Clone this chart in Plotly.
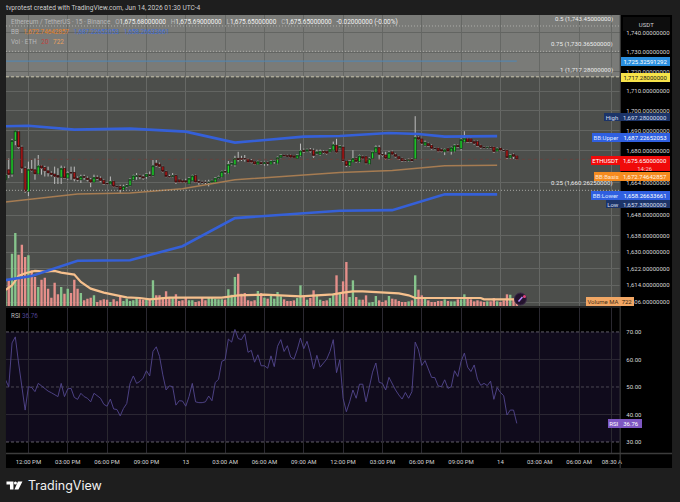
import math

import pandas as pd
import plotly.graph_objects as go

# -----------------------------
# Data
# -----------------------------
opens = [1665.5, 1670.4, 1668.3, 1685.1, 1689.5, 1681.8, 1671.2, 1659.8, 1670.7, 1670.4,
         1668.3, 1672.4, 1671.6, 1669.9, 1668.8, 1668.3, 1667.6, 1666.7, 1671.2, 1666.3,
         1669.1, 1669.1, 1666.3, 1665.5, 1667.1, 1666.3, 1665.5, 1664.3, 1666.7, 1666.3,
         1665.3, 1663.7, 1663.4, 1664.7, 1662.2, 1662.2, 1660.6, 1662.1, 1662.6, 1665.5,
         1667.1, 1667.5, 1667.0, 1667.1, 1668.0, 1667.6, 1673.7, 1673.2, 1672.0, 1669.6,
         1667.1, 1667.1, 1667.6, 1665.5, 1665.0, 1665.0, 1663.4, 1665.0, 1667.6, 1664.7,
         1664.4, 1664.3, 1664.2, 1664.3, 1664.3, 1666.3, 1666.8, 1669.6, 1668.8, 1673.2,
         1672.9, 1676.1, 1676.1, 1676.0, 1675.8, 1675.1, 1674.5, 1673.2, 1674.0, 1673.5,
         1674.0, 1673.2, 1674.5, 1673.7, 1676.6, 1677.8, 1677.6, 1677.8, 1677.4, 1676.1,
         1677.4, 1680.2, 1679.7, 1680.4, 1680.2, 1678.6, 1678.1, 1679.7, 1679.7, 1679.4,
         1680.2, 1682.65, 1681.4, 1681.8, 1674.8, 1672.5, 1674.2, 1676.1, 1674.5, 1677.0,
         1677.0, 1673.3, 1676.1, 1679.1, 1681.5, 1678.1, 1677.8, 1676.1, 1679.4, 1678.1,
         1677.0, 1676.1, 1675.3, 1675.0, 1675.6, 1675.8, 1686.7, 1685.9, 1682.65, 1683.5,
         1682.65, 1681.3, 1681.3, 1680.5, 1679.4, 1681.0, 1679.7, 1679.7, 1682.65, 1681.0,
         1684.3, 1685.9, 1685.9, 1684.6, 1684.6, 1682.65, 1681.8, 1681.5, 1681.8, 1681.8,
         1679.7, 1681.3, 1680.2, 1680.2, 1676.4, 1678.1, 1677.4]
highs = [1668.8, 1676.1, 1685.9, 1690.2, 1690.0, 1682.5, 1672.0, 1674.5, 1675.3, 1676.1,
         1677.8, 1672.85, 1672.4, 1672.0, 1669.6, 1672.0, 1671.2, 1672.5, 1672.0, 1669.6,
         1672.0, 1672.0, 1667.1, 1668.0, 1668.0, 1667.1, 1666.3, 1668.0, 1667.6, 1667.1,
         1665.9, 1664.3, 1667.1, 1665.0, 1662.6, 1663.0, 1663.0, 1663.4, 1666.0, 1668.0,
         1668.8, 1668.0, 1668.0, 1668.8, 1669.6, 1675.3, 1675.3, 1674.0, 1672.4, 1670.0,
         1668.0, 1668.8, 1668.0, 1666.0, 1665.5, 1666.0, 1666.7, 1668.0, 1668.0, 1665.5,
         1665.0, 1665.2, 1665.5, 1665.5, 1666.7, 1667.5, 1670.0, 1670.4, 1674.8, 1674.4,
         1677.4, 1679.4, 1677.4, 1677.8, 1676.3, 1675.8, 1674.8, 1675.0, 1674.6, 1674.5,
         1674.5, 1675.1, 1675.3, 1677.0, 1678.2, 1678.2, 1678.0, 1678.2, 1677.8, 1678.1,
         1683.5, 1681.0, 1681.0, 1681.3, 1681.0, 1680.5, 1680.5, 1680.3, 1680.0, 1681.2,
         1684.5, 1685.9, 1682.8, 1682.5, 1675.0, 1675.2, 1680.2, 1676.6, 1678.0, 1677.5,
         1677.4, 1676.6, 1679.8, 1682.6, 1682.65, 1679.0, 1679.4, 1679.7, 1680.0, 1678.6,
         1677.4, 1676.5, 1675.8, 1676.0, 1676.2, 1697.28, 1687.2, 1686.3, 1685.0, 1684.0,
         1683.2, 1681.8, 1681.7, 1681.0, 1681.0, 1681.4, 1682.0, 1683.0, 1683.2, 1686.0,
         1689.7, 1686.4, 1686.5, 1685.0, 1685.0, 1683.0, 1682.3, 1682.0, 1682.2, 1682.2,
         1681.6, 1681.8, 1680.8, 1680.6, 1678.3, 1678.6, 1677.8]
lows = [1661.5, 1666.3, 1667.0, 1682.7, 1681.0, 1668.8, 1659.0, 1657.4, 1669.6, 1665.5,
        1668.0, 1668.0, 1667.1, 1667.1, 1667.1, 1663.4, 1663.4, 1663.4, 1666.0, 1665.5,
        1665.5, 1664.7, 1664.7, 1663.9, 1665.5, 1664.7, 1661.8, 1663.9, 1665.5, 1664.3,
        1663.0, 1663.0, 1663.0, 1661.8, 1661.5, 1659.0, 1660.0, 1661.5, 1662.2, 1665.0,
        1665.5, 1665.8, 1665.5, 1666.0, 1667.1, 1667.1, 1672.0, 1671.6, 1669.1, 1666.7,
        1666.3, 1666.7, 1663.4, 1664.0, 1663.9, 1663.9, 1663.0, 1664.7, 1663.9, 1663.0,
        1663.5, 1663.3, 1662.2, 1663.9, 1664.0, 1666.0, 1666.3, 1668.3, 1668.3, 1672.6,
        1672.0, 1674.5, 1674.8, 1674.5, 1673.8, 1673.7, 1672.8, 1672.8, 1673.0, 1672.5,
        1672.5, 1672.8, 1673.5, 1673.2, 1676.2, 1677.0, 1676.8, 1676.3, 1676.3, 1675.8,
        1677.0, 1679.0, 1679.2, 1679.0, 1676.4, 1678.0, 1677.5, 1678.5, 1678.0, 1679.0,
        1680.0, 1678.7, 1681.0, 1674.3, 1671.8, 1672.0, 1673.8, 1674.0, 1674.0, 1675.6,
        1673.2, 1673.0, 1675.8, 1678.8, 1675.3, 1677.0, 1675.3, 1675.6, 1677.7, 1676.6,
        1675.4, 1674.4, 1674.6, 1674.5, 1674.4, 1675.3, 1685.2, 1683.0, 1682.0, 1681.8,
        1680.5, 1680.6, 1679.2, 1679.2, 1677.75, 1679.2, 1678.0, 1679.2, 1681.3, 1680.0,
        1684.0, 1683.8, 1684.0, 1683.0, 1682.0, 1681.0, 1681.2, 1681.0, 1681.1, 1679.0,
        1679.2, 1679.8, 1679.5, 1676.0, 1675.8, 1675.9, 1675.3]
closes = [1668.0, 1668.0, 1685.1, 1690.0, 1681.8, 1671.2, 1659.8, 1670.7, 1670.2, 1668.3,
          1672.4, 1671.2, 1669.9, 1668.8, 1668.0, 1667.1, 1666.7, 1671.2, 1666.3, 1668.8,
          1668.8, 1666.0, 1665.5, 1667.1, 1666.7, 1665.5, 1664.3, 1666.7, 1666.0, 1665.0,
          1663.4, 1663.4, 1664.7, 1662.2, 1661.9, 1660.6, 1662.2, 1662.7, 1665.8, 1667.5,
          1667.5, 1667.0, 1666.3, 1668.3, 1667.6, 1672.5, 1672.5, 1672.0, 1669.6, 1667.1,
          1666.8, 1667.5, 1664.3, 1664.3, 1664.3, 1664.3, 1666.3, 1667.5, 1664.3, 1664.3,
          1664.2, 1664.2, 1664.3, 1665.0, 1666.3, 1666.8, 1669.6, 1669.3, 1673.2, 1673.7,
          1676.1, 1675.5, 1675.6, 1675.8, 1674.2, 1674.2, 1673.2, 1674.5, 1673.5, 1674.0,
          1673.6, 1674.8, 1674.8, 1676.6, 1677.8, 1677.3, 1677.1, 1676.6, 1676.6, 1677.8,
          1679.9, 1679.4, 1680.4, 1679.9, 1677.4, 1679.4, 1679.7, 1679.1, 1678.6, 1680.7,
          1683.0, 1679.1, 1682.3, 1674.8, 1672.5, 1674.8, 1676.1, 1674.5, 1677.4, 1676.1,
          1673.7, 1676.1, 1679.4, 1681.8, 1678.1, 1677.8, 1676.1, 1679.1, 1678.1, 1677.0,
          1675.8, 1674.8, 1675.0, 1675.6, 1674.8, 1686.7, 1685.6, 1683.5, 1684.3, 1682.3,
          1681.0, 1681.0, 1679.7, 1679.7, 1680.5, 1679.7, 1681.5, 1682.65, 1681.8, 1685.6,
          1686.2, 1684.3, 1684.3, 1683.5, 1682.3, 1681.5, 1681.5, 1681.8, 1681.5, 1679.4,
          1681.0, 1680.2, 1679.9, 1676.4, 1677.75, 1677.0, 1675.65]
volumes = [1620, 2880, 5650, 7880, 5540, 6620, 5290, 5470, 3850, 3130,
           2050, 2840, 3060, 1870, 900, 2520, 1260, 2050, 1330, 1870,
           1400, 2840, 1870, 1400, 610, 790, 900, 1150, 430, 610,
           720, 680, 430, 720, 500, 1040, 540, 790, 540, 610,
           860, 720, 680, 680, 790, 2770, 1150, 1150, 970, 1580,
           970, 860, 1260, 540, 610, 970, 610, 610, 430, 500,
           860, 610, 860, 970, 790, 720, 720, 680, 1800, 1220,
           3130, 3490, 1330, 1400, 610, 500, 610, 1620, 1400, 900,
           790, 1080, 790, 1510, 1040, 720, 540, 540, 610, 860,
           2230, 1040, 680, 860, 1690, 1220, 680, 540, 610, 860,
           1330, 3310, 1400, 2660, 4750, 970, 2770, 970, 680, 680,
           1150, 360, 430, 1080, 610, 430, 610, 1080, 790, 720,
           540, 430, 430, 500, 610, 3310, 1760, 1150, 790, 610,
           430, 430, 540, 540, 720, 540, 500, 500, 720, 720,
           1260, 790, 720, 500, 610, 500, 430, 500, 500, 860,
           500, 430, 610, 1260, 1220, 790, 430]
rsi_values = [52.6, 50.1, 66.0, 68.2, 58.7, 49.9, 41.6, 50.1, 49.8, 48.3,
              51.3, 50.4, 49.4, 48.5, 47.9, 47.1, 46.5, 51.3, 46.5, 49.3,
              49.5, 46.2, 45.5, 47.7, 46.5, 45.9, 44.6, 47.7, 46.7, 45.9,
              43.7, 43.0, 45.6, 42.0, 41.8, 39.5, 42.2, 44.0, 51.3, 54.0,
              51.3, 52.0, 53.2, 55.9, 54.0, 62.9, 64.6, 61.1, 54.4, 48.9,
              50.4, 50.1, 43.4, 45.0, 44.9, 43.0, 46.5, 51.3, 44.6, 44.3,
              44.3, 44.6, 46.7, 45.0, 51.6, 52.8, 59.3, 59.9, 67.4, 66.3,
              70.9, 67.6, 67.2, 69.3, 62.6, 63.3, 59.0, 61.7, 57.7, 57.7,
              56.8, 61.3, 57.4, 64.8, 67.2, 62.9, 65.0, 60.9, 60.1, 63.5,
              67.8, 63.9, 66.6, 62.3, 56.6, 61.5, 57.2, 58.7, 60.1, 62.9,
              67.2, 55.2, 59.9, 45.9, 41.0, 44.6, 48.9, 45.9, 51.0, 51.0,
              44.6, 49.9, 55.4, 58.7, 51.7, 51.3, 48.9, 53.5, 51.1, 48.9,
              47.1, 45.6, 48.0, 45.9, 48.3, 66.3, 63.5, 57.8, 59.6, 56.5,
              53.5, 53.4, 50.4, 50.1, 52.6, 49.5, 50.1, 55.9, 53.8, 59.3,
              62.3, 57.2, 55.6, 58.0, 52.8, 50.6, 51.3, 50.5, 52.1, 45.5,
              49.8, 48.0, 46.8, 39.8, 41.6, 41.6, 36.76]

# the band and the MA were read at their corners only, positions are bar numbers
bb_upper_bars = [0, 7, 21, 38, 55, 70, 91, 102, 117, 126, 134, 150]
bb_upper = [1692.2, 1692.5, 1690.5, 1691.0, 1689.5, 1684.0, 1687.0, 1687.3, 1688.8, 1688.3, 1687.0, 1687.23]
bb_lower_bars = [0, 8, 22, 38, 54, 70, 102, 118, 134, 150]
bb_lower = [1616.5, 1618.5, 1625.8, 1626.1, 1632.9, 1646.6, 1650.2, 1650.5, 1658.3, 1658.27]
bb_basis_bars = [0, 22, 38, 54, 70, 102, 118, 134, 150]
bb_basis = [1654.5, 1658.5, 1659.0, 1661.0, 1665.5, 1669.1, 1670.1, 1672.5, 1672.75]
vol_ma_bars = [0, 2, 4, 6, 9, 12, 15, 17, 21, 23, 26, 30, 34, 37, 41, 44, 50, 66, 71, 79, 90,
               100, 103, 106, 109, 117, 120, 123, 125, 145, 146, 156]
vol_ma = [1728, 2232, 3240, 3528, 3780, 3708, 3780, 3600, 3384, 2592, 1872, 1440, 1152, 936, 864, 720, 900, 900,
          1152, 1224, 1044, 1260, 1440, 1584, 1584, 1404, 1368, 1152, 864, 864, 722, 722]

fib_levels = [1743.45, 1730.365, 1717.28, 1660.2625]
fib_labels = ["0.5 (1,743.45000000)", "0.75 (1,730.36500000)", "1 (1,717.28000000)", "0.25 (1,660.26250000)"]
level_blue = 1725.32591292
last_price = 1675.65

price_ticks = [1740, 1730, 1720, 1710, 1700, 1690, 1680, 1664, 1648, 1638, 1630, 1622, 1614, 1606]
rsi_ticks = [70, 60, 50, 40, 30]
time_ticks = ["2026-06-12 12:00", "2026-06-12 15:00", "2026-06-12 18:00", "2026-06-12 21:00", "2026-06-13 00:00",
              "2026-06-13 03:00", "2026-06-13 06:00", "2026-06-13 09:00", "2026-06-13 12:00", "2026-06-13 15:00",
              "2026-06-13 18:00", "2026-06-13 21:00", "2026-06-14 00:00", "2026-06-14 03:00", "2026-06-14 06:00",
              "2026-06-14 08:30"]
time_labels = ["12:00 PM", "03:00 PM", "06:00 PM", "09:00 PM", "13", "03:00 AM", "06:00 AM", "09:00 AM", "12:00 PM",
               "03:00 PM", "06:00 PM", "09:00 PM", "14", "03:00 AM", "06:00 AM", "08:30 A"]

assert len(opens) == len(highs) == len(lows) == len(closes) == len(volumes) == len(rsi_values) == 157

# -----------------------------
# Settings
# -----------------------------
W, H = 680, 502
FONT = "Roboto"
PANE_BG = "#4c4e4b"
FIB_BG = "#7a7b78"
GREEN = "#22e02c"
RED = "#b81818"
VOL_UP = "#86c48c"
VOL_DOWN = "#e58f8a"
BLUE = "#3560d8"


def px(x):
    return x / W


def py(y):
    return 1 - y / H


bar_times = pd.date_range("2026-06-12 10:15", periods=len(closes), freq="15min")
x_range = ["2026-06-12 10:17:20", "2026-06-14 09:08"]

fig = go.Figure()

# volume lives on the base axis so the price lines stay on top of it
fig.add_trace(go.Bar(
    x=bar_times, y=volumes, yaxis="y", xaxis="x",
    marker_color=[VOL_UP if c >= o else VOL_DOWN for o, c in zip(opens, closes)],
    marker_line_width=0,
))
fig.add_trace(go.Scatter(
    x=bar_times[vol_ma_bars], y=vol_ma, mode="lines", yaxis="y", xaxis="x",
    line=dict(color="#f6c08d", width=2.2),
))

# thin reference lines
fig.add_trace(go.Scatter(
    x=[bar_times[0], bar_times[-1]], y=[level_blue, level_blue], mode="lines", yaxis="y2",
    line=dict(color="#4f86b8", width=1),
))

# wicks first in grey (flat box so only the stick shows), then the bodies with a dark edge
fig.add_trace(go.Candlestick(
    x=bar_times, open=closes, high=highs, low=lows, close=closes, yaxis="y2", xaxis="x",
    increasing=dict(line=dict(color="#bdbdbd", width=1)),
    decreasing=dict(line=dict(color="#bdbdbd", width=1)),
    whiskerwidth=0,
))
fig.add_trace(go.Candlestick(
    x=bar_times, open=opens, close=closes, yaxis="y2", xaxis="x",
    high=[max(o, c) for o, c in zip(opens, closes)],
    low=[min(o, c) for o, c in zip(opens, closes)],
    increasing=dict(line=dict(color="#0c2a12", width=0.7), fillcolor=GREEN),
    decreasing=dict(line=dict(color="#260c0c", width=0.7), fillcolor=RED),
    whiskerwidth=0,
))

# Bollinger bands
fig.add_trace(go.Scatter(x=bar_times[bb_basis_bars], y=bb_basis, mode="lines", yaxis="y2",
                         line=dict(color="#a67c52", width=1.5)))
fig.add_trace(go.Scatter(x=bar_times[bb_upper_bars], y=bb_upper, mode="lines", yaxis="y2",
                         line=dict(color=BLUE, width=2.6)))
fig.add_trace(go.Scatter(x=bar_times[bb_lower_bars], y=bb_lower, mode="lines", yaxis="y2",
                         line=dict(color=BLUE, width=2.6)))

# RSI
fig.add_trace(go.Scatter(x=bar_times, y=rsi_values, mode="lines", xaxis="x2", yaxis="y3",
                         line=dict(color="#54478f", width=0.9)))

shapes = [
    # page blocks
    dict(type="rect", xref="paper", yref="paper", x0=px(6), x1=px(674), y0=py(15), y1=py(468),
         fillcolor="#000000", line_width=0, layer="below"),
    dict(type="rect", xref="paper", yref="paper", x0=px(6), x1=px(622), y0=py(15), y1=py(306),
         fillcolor=PANE_BG, line_width=0, layer="below"),
    dict(type="rect", xref="x domain", yref="y2", x0=0, x1=1, y0=fib_levels[2], y1=1760,
         fillcolor=FIB_BG, line_width=0, layer="below"),
    dict(type="rect", xref="x2 domain", yref="y3", x0=0, x1=1, y0=30, y1=70,
         fillcolor="#100b1c", line_width=0, layer="below"),
    # separators
    dict(type="line", xref="paper", yref="paper", x0=px(622), x1=px(622), y0=py(15), y1=py(468),
         line=dict(color="#444444", width=1)),
    dict(type="line", xref="paper", yref="paper", x0=px(6), x1=px(674), y0=py(453.5), y1=py(453.5),
         line=dict(color="#3c3c3c", width=1.5)),
    dict(type="line", xref="paper", yref="paper", x0=px(6), x1=px(622), y0=py(307), y1=py(307),
         line=dict(color="#2e2e2e", width=1.5)),
    # last price
    dict(type="line", xref="x domain", yref="y2", x0=0, x1=1, y0=last_price, y1=last_price,
         line=dict(color="#6f3f3b", width=0.8, dash="dot")),
    # little app icon over the volume
    dict(type="circle", xref="paper", yref="paper", x0=px(516), x1=px(528), y0=py(305), y1=py(293),
         fillcolor="#24132e", line=dict(color="#3a2a48", width=1)),
    dict(type="line", xref="paper", yref="paper", x0=px(520), x1=px(524), y0=py(301.5), y1=py(297),
         line=dict(color="#b388ff", width=1.5)),
    dict(type="circle", xref="paper", yref="paper", x0=px(524.5), x1=px(527.5), y0=py(298), y1=py(295),
         fillcolor="#e0457b", line_width=0),
    # TradingView mark
    dict(type="path", xref="paper", yref="paper", fillcolor="#ffffff", line_width=0,
         path=(f"M {px(6.5)} {py(481.5)} L {px(13.5)} {py(481.5)} L {px(13.5)} {py(489.5)} L {px(10)} {py(489.5)} "
               f"L {px(10)} {py(484.5)} L {px(6.5)} {py(484.5)} Z "
               f"M {px(18)} {py(481.5)} L {px(22.5)} {py(481.5)} L {px(18.5)} {py(489.5)} L {px(14.5)} {py(489.5)} Z")),
    dict(type="circle", xref="paper", yref="paper", x0=px(14), x1=px(17), y0=py(484.5), y1=py(481.5),
         fillcolor="#ffffff", line_width=0),
]
for level, dash, color in zip(fib_levels, ["1px,2px", "1px,2px", "3px,2px", "1px,2px"],
                              ["#b4b4b0", "#b4b4b0", "#d8d4b8", "#b4b4b0"]):
    shapes.append(dict(type="line", xref="x domain", yref="y2", x0=0, x1=1, y0=level, y1=level,
                       line=dict(color=color, width=0.9, dash=dash)))
for level, dash, color in zip(rsi_ticks, ["3px,2px", "solid", "3px,2px", "solid", "3px,2px"],
                              ["#6c6974", "#302d38", "#514e59", "#302d38", "#6c6974"]):
    shapes.append(dict(type="line", xref="x2 domain", yref="y3", x0=0, x1=1, y0=level, y1=level,
                       line=dict(color=color, width=0.9, dash=dash), layer="below"))

annotations = []


def text(x, y, s, size=6.2, color="#d8d8d8", anchor="left", family=FONT):
    annotations.append(dict(xref="paper", yref="paper", x=px(x), y=py(y), text=s, showarrow=False,
                            xanchor=anchor, yanchor="middle", borderpad=0,
                            font=dict(family=family, size=size, color=color)))


def badge(x0, x1, y0, y1, s, bg, color="#ffffff"):
    annotations.append(dict(xref="paper", yref="paper", x=px((x0 + x1) / 2), y=py((y0 + y1) / 2), text=s,
                            showarrow=False, xanchor="center", yanchor="middle", width=x1 - x0, height=y1 - y0,
                            bgcolor=bg, borderpad=0, borderwidth=0,
                            font=dict(family=FONT, size=6, color=color)))


def grey(s):
    return f'<span style="color:#b8b8b8">{s}</span>'


text(5, 8, "tvprotest created with TradingView.com, Jun 14, 2026 01:30 UTC-4", size=6.6, color="#cfcfcf")
text(10, 22.5, grey("Ethereum / TetherUS · 15 · Binance") + "   " + grey("O") + "1,675.68000000   " + grey("H")
     + "1,675.69000000   " + grey("L") + "1,675.65000000   " + grey("C") + "1,675.65000000   -0.02000000 (-0.00%)",
     size=6.45, color="#f2f2f2")
text(10, 32, grey("BB") + '   <span style="color:#e8832a">1,672.74642857</span>   '
     + '<span style="color:#3f6fd8">1,687.22652053   1,658.26633661</span>', size=6.3)
text(10, 41.5, grey("Vol · ETH") + '   <span style="color:#c0413c">20</span>   <span style="color:#e8a060">722</span>', size=6.3)

for level, label in zip(fib_levels, fib_labels):
    annotations.append(dict(xref="paper", yref="y2", x=px(617), y=math.log10(level),
                            text=label, showarrow=False, xanchor="right", yanchor="middle", yshift=7,
                            font=dict(family=FONT, size=6.1, color="#ececec")))

# right scale badges
badge(625, 672, 17, 31, "USDT", "#0d0d0d", "#cfcfcf")
badge(623, 672, 57, 66, "1,725.32591292", "#2a8fe0")
badge(623, 672, 73.5, 82.5, "1,717.28000000", "#f7e34a", "#1a1a1a")
badge(606, 622, 113, 121, "High", "#1c3468", "#d6dff0")
badge(622, 672, 113, 121, "1,697.28000000", "#1c3468", "#d6dff0")
badge(594, 622, 132.5, 141.5, "BB:Upper", "#2f5fe0", "#dfe7ff")
badge(622, 672, 132.5, 141.5, "1,687.22652053", "#2f5fe0")
badge(593, 622, 156, 165, "ETHUSDT", "#f00a0a")
badge(622, 672, 156, 165, "1,675.65000000", "#f00a0a")
badge(622, 672, 165, 171, "14:26", "#f00a0a", "#f7c9c9")
badge(596, 622, 172, 180.5, "BB:Basis", "#f58b1f", "#ffe9d2")
badge(622, 672, 172, 180.5, "1,672.74642857", "#f58b1f", "#fff4e6")
badge(593, 622, 191.5, 200, "BB:Lower", "#2f5fe0", "#dfe7ff")
badge(622, 672, 191.5, 200, "1,658.26633661", "#2f5fe0")
badge(608, 622, 200, 208, "Low", "#1c3468", "#d6dff0")
badge(622, 672, 200, 208, "1,657.38000000", "#1c3468", "#d6dff0")
badge(588, 622, 297, 305.5, "Volume MA", "#f2a765", "#4a3218")
badge(622, 636, 297, 305.5, "722", "#f2a765", "#2c1c0c")
badge(610, 622, 419, 427.5, "RSI", "#7e57c2")
badge(622, 644, 419, 427.5, "36.76", "#7e57c2")
text(10, 315.5, grey("RSI") + ' <span style="color:#4f4390">36.76</span>', size=6.3)

text(27, 485.5, "TradingView", size=12.5, color="#f2f2f2", family="Inter")

x_dom = [px(6), px(622)]
pane_dom = [py(306), py(15)]
rsi_dom = [py(453), py(308)]

fig.update_layout(
    width=W, height=H,
    margin=dict(l=0, r=0, t=0, b=0),
    paper_bgcolor="#1e1e1e",
    plot_bgcolor="rgba(0,0,0,0)",
    showlegend=False,
    hovermode=False,
    bargap=0.28,
    boxmode="overlay",
    boxgap=0.08,
    font=dict(family=FONT, size=6, color="#d8d8d8"),
    xaxis=dict(domain=x_dom, range=x_range, type="date", anchor="y", tickvals=time_ticks, ticktext=[""] * len(time_ticks),
               showgrid=True, gridcolor="#666865", gridwidth=1, zeroline=False, showline=False, ticks="",
               rangeslider=dict(visible=False)),
    xaxis2=dict(domain=x_dom, range=x_range, type="date", anchor="y3", tickvals=time_ticks, ticktext=time_labels,
                showgrid=True, gridcolor="#2a2830", gridwidth=1, zeroline=False, showline=False,
                ticks="outside", ticklen=3, tickcolor="rgba(0,0,0,0)",
                tickfont=dict(family=FONT, size=6, color="#d4d4d4")),
    # hidden volume scale, zero sits on the pane floor
    yaxis=dict(domain=pane_dom, range=[0, 31400], showgrid=False, showticklabels=False, zeroline=False, ticks=""),
    # log scale, the uneven ticks of the picture line up only this way
    yaxis2=dict(domain=pane_dom, type="log", range=[3.20523, 3.24283], overlaying="y", side="right", anchor="x",
                tickvals=price_ticks, ticktext=[f"{t:,.8f}" for t in price_ticks],
                showgrid=True, gridcolor="#636562", gridwidth=1, zeroline=False, showline=False,
                ticks="outside", ticklen=4, tickcolor="rgba(0,0,0,0)",
                tickfont=dict(family=FONT, size=6, color="#d8d8d8")),
    yaxis3=dict(domain=rsi_dom, range=[26, 78.7], side="right", anchor="x2",
                tickvals=rsi_ticks, ticktext=[f"{t:.2f}" for t in rsi_ticks],
                showgrid=False, zeroline=False, showline=False,
                ticks="outside", ticklen=4, tickcolor="rgba(0,0,0,0)",
                tickfont=dict(family=FONT, size=6, color="#d8d8d8")),
    shapes=shapes,
    annotations=annotations,
)

fig.write_html("out.html", config={"displayModeBar": False},
               post_script="document.body.style.margin='0';document.body.style.overflow='hidden';")
